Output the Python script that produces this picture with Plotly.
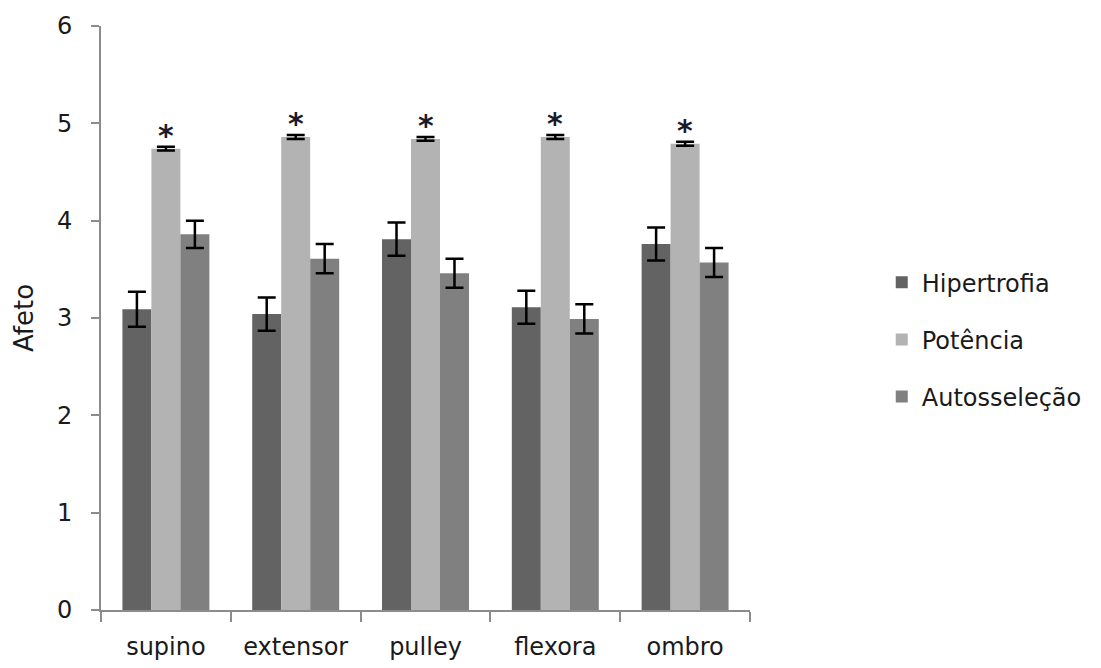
import plotly.graph_objects as go

categories = ["supino", "extensor", "pulley", "flexora", "ombro"]
hipertrofia = [3.09, 3.04, 3.81, 3.11, 3.76]
hipertrofia_err = [0.18, 0.17, 0.17, 0.17, 0.17]
potencia = [4.74, 4.86, 4.84, 4.86, 4.79]
potencia_err = [0.02, 0.02, 0.02, 0.02, 0.02]
autoselecao = [3.86, 3.61, 3.46, 2.99, 3.57]
autoselecao_err = [0.14, 0.15, 0.15, 0.15, 0.15]
series_names = ["Hipertrofia", "Potência", "Autosseleção"]
y_ticks = [0, 1, 2, 3, 4, 5, 6]

FONT = "DejaVu Sans"
colors = ["#636363", "#b3b3b3", "#808080"]

fig = go.Figure()
for i, (name, vals, errs) in enumerate(zip(series_names,
                                           [hipertrofia, potencia, autoselecao],
                                           [hipertrofia_err, potencia_err, autoselecao_err])):
    fig.add_trace(go.Bar(
        x=categories, y=vals, name=name,
        marker=dict(color=colors[i], line=dict(width=0)),
        error_y=dict(type="data", array=errs, visible=True,
                     color="black", thickness=2.5, width=9),
        legendgroup=name,
    ))

for c, v, e in zip(categories, potencia, potencia_err):
    fig.add_annotation(x=c, y=v + e, text="<b>*</b>", showarrow=False,
                       yanchor="bottom", yshift=-8,
                       font=dict(family=FONT, size=30, color="#1a1a2a"))

fig.update_layout(
    width=1101, height=668,
    paper_bgcolor="white", plot_bgcolor="white",
    margin=dict(l=93, r=359, t=18, b=66, autoexpand=False),
    barmode="group", bargap=0.33, bargroupgap=0,
    font=dict(family=FONT, color="#1a1a1a"),
    legend=dict(x=1.203, y=0.463, xanchor="left", yanchor="middle",
                font=dict(family=FONT, size=24), traceorder="grouped",
                tracegroupgap=23, itemwidth=30, bgcolor="rgba(0,0,0,0)"),
    showlegend=True,
)
fig.update_yaxes(range=[0, 6], tickvals=y_ticks, showline=True, linecolor="#8c8c8c",
                 linewidth=2, ticks="outside", ticklen=8, tickcolor="#8c8c8c",
                 tickwidth=2, showgrid=False, zeroline=False, automargin=False,
                 tickfont=dict(family=FONT, size=24), ticklabelstandoff=14,
                 title=dict(text="Afeto", font=dict(family=FONT, size=26), standoff=16))
fig.update_xaxes(showline=True, linecolor="#8c8c8c", linewidth=2,
                 ticks="outside", ticklen=10, tickcolor="#8c8c8c", tickwidth=2,
                 tickson="boundaries", showgrid=False, automargin=False,
                 tickfont=dict(family=FONT, size=24), ticklabelstandoff=14)

fig.write_html("out.html")
